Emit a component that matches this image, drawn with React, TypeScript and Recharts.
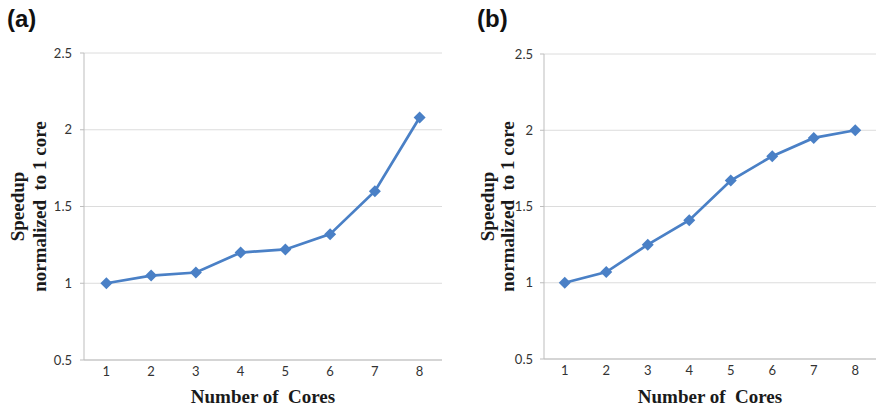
import { LineChart, Line, XAxis, YAxis, CartesianGrid, Label } from "recharts";

const cores = ["1", "2", "3", "4", "5", "6", "7", "8"];
const speedupA = [1, 1.05, 1.07, 1.2, 1.22, 1.32, 1.6, 2.08];
const speedupB = [1, 1.07, 1.25, 1.41, 1.67, 1.83, 1.95, 2.0];
const yTicks = [0.5, 1, 1.5, 2, 2.5];

const LINE = "#4a80c6";
const TICK_FONT = "Lato, 'Open Sans', sans-serif";
const TITLE_FONT = "'Liberation Serif', 'Times New Roman', serif";

const Diamond = (props: any) => {
  const { cx, cy } = props;
  if (cx == null || cy == null) return null;
  const r = 6;
  return (
    <path
      d={`M${cx},${cy - r}L${cx + r},${cy}L${cx},${cy + r}L${cx - r},${cy}Z`}
      fill={LINE}
    />
  );
};

interface PanelProps {
  values: number[];
  left: number;
  width: number;
  yWidth: number;
  top: number;
  xHeight: number;
  tickMargin: number;
  line1: number;
  line2: number;
}

const Panel = ({ values, left, width, yWidth, top, xHeight, tickMargin, line1, line2 }: PanelProps) => {
  const data = cores.map((c, i) => ({ cores: c, speedup: values[i] }));
  const height = 406;
  const midY = top + (height - top - xHeight) / 2;

  const yTitle = () => (
    <g fontFamily={TITLE_FONT} fontWeight="bold" fontSize={19} fill="#1a1a1a">
      <text x={line1} y={midY} transform={`rotate(-90 ${line1} ${midY})`} textAnchor="middle" dominantBaseline="central">
        Speedup
      </text>
      <text x={line2} y={midY} transform={`rotate(-90 ${line2} ${midY})`} textAnchor="middle" dominantBaseline="central">
        {"normalized\u00a0 to 1 core"}
      </text>
    </g>
  );

  return (
    <div style={{ position: "absolute", left, top: 0 }}>
      <LineChart width={width} height={height} data={data} margin={{ top, right: 0, bottom: 0, left: 0 }}>
        <CartesianGrid vertical={false} stroke="#dcdcdc" />
        <XAxis
          dataKey="cores"
          scale="band"
          height={xHeight}
          tickLine={false}
          tickSize={0}
          tickMargin={7}
          stroke="#bdbdbd"
          tick={{ fill: "#333", fontSize: 13, fontFamily: TICK_FONT }}
        >
          <Label
            value={"Number of\u00a0 Cores"}
            position="insideBottom"
            offset={3}
            style={{ fontFamily: TITLE_FONT, fontWeight: "bold", fontSize: 19, fill: "#1a1a1a" }}
          />
        </XAxis>
        <YAxis
          width={yWidth}
          domain={[0.5, 2.5]}
          ticks={yTicks}
          tickSize={4}
          tickMargin={tickMargin}
          stroke="#bdbdbd"
          tick={{ fill: "#333", fontSize: 13, fontFamily: TICK_FONT }}
        >
          <Label content={yTitle} />
        </YAxis>
        <Line
          type="linear"
          dataKey="speedup"
          stroke={LINE}
          strokeWidth={2.75}
          dot={<Diamond />}
          activeDot={false}
          isAnimationActive={false}
        />
      </LineChart>
    </div>
  );
};

const panelLetter = (text: string, left: number) => (
  <div
    style={{
      position: "absolute",
      left,
      top: 5,
      fontFamily: "'Liberation Sans', Arial, sans-serif",
      fontWeight: "bold",
      fontSize: 24,
      color: "#111",
    }}
  >
    {text}
  </div>
);

export default function App() {
  return (
    <div style={{ position: "absolute", left: 0, top: 0, width: 876, height: 406, background: "#fff", overflow: "hidden" }}>
      <Panel values={speedupA} left={0} width={442} yWidth={84} top={53} xHeight={46} tickMargin={8} line1={17} line2={39} />
      <Panel values={speedupB} left={440} width={436} yWidth={104} top={54} xHeight={47} tickMargin={7} line1={47} line2={67} />
      {panelLetter("(a)", 7)}
      {panelLetter("(b)", 477)}
    </div>
  );
}
